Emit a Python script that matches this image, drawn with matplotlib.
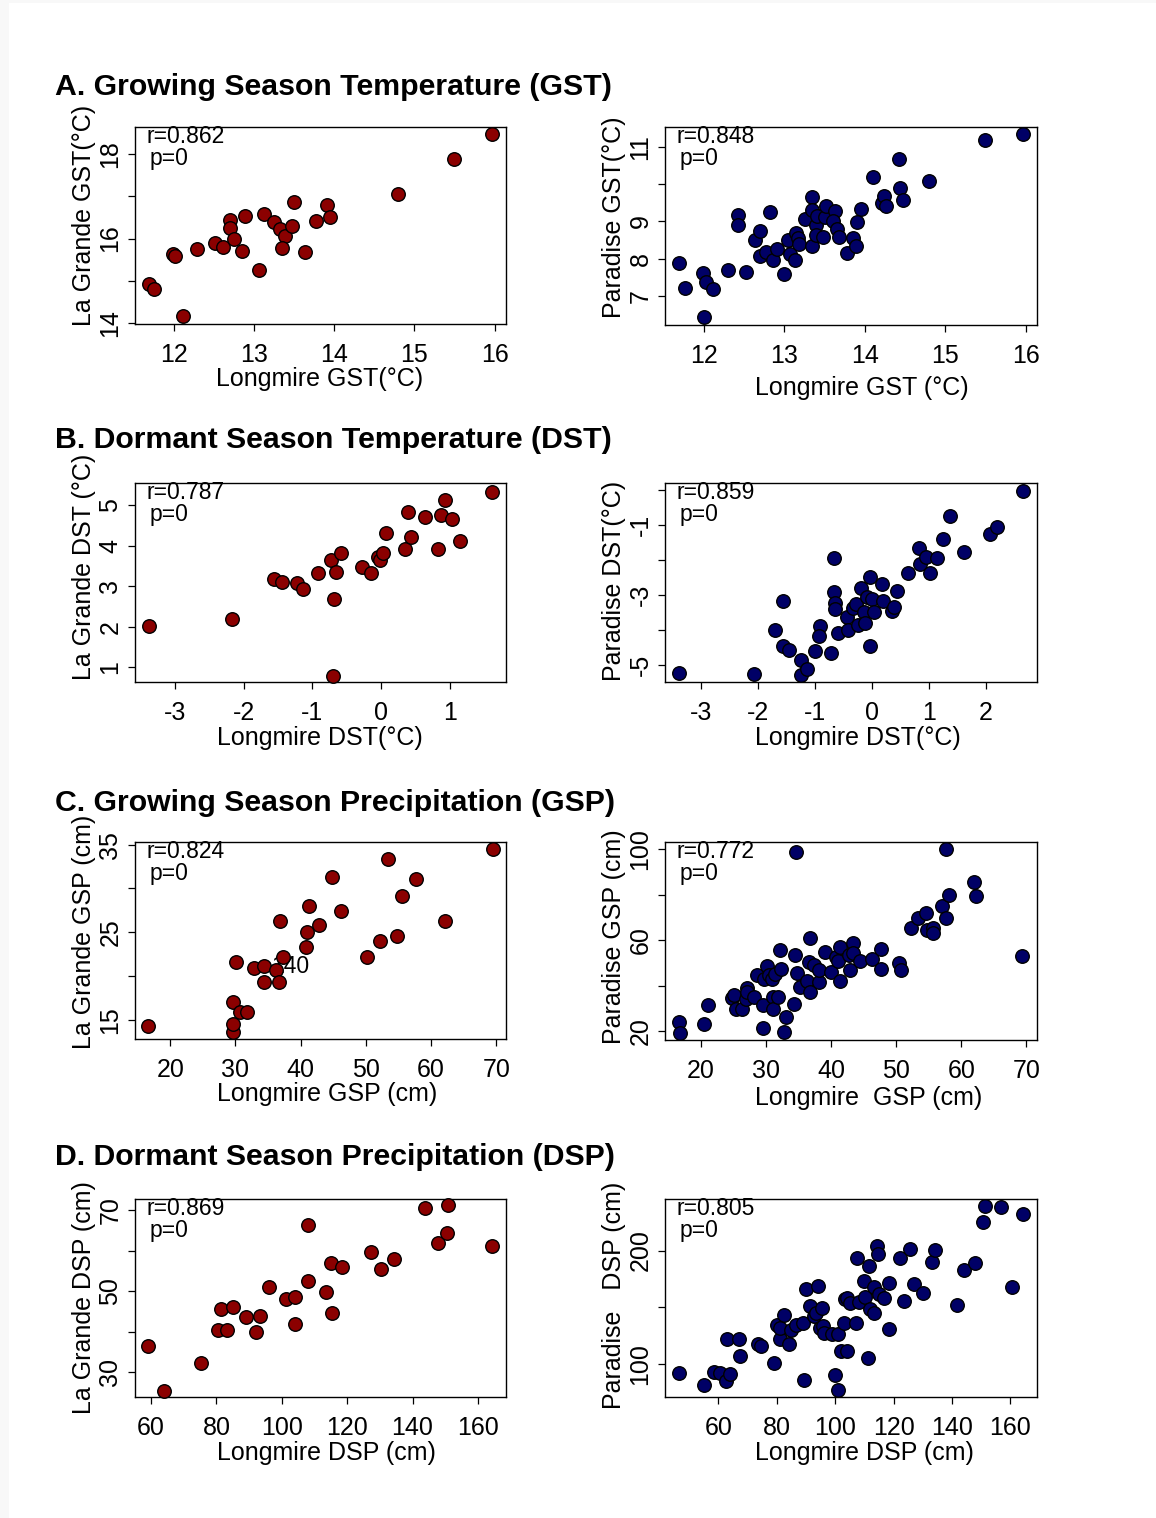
import matplotlib.pyplot as plt
from matplotlib.patches import Rectangle

plt.rcParams['font.family'] = ['Liberation Sans', 'DejaVu Sans']

W, H = 1156, 1518
RED = '#8b0000'
BLUE = '#000066'

# A. growing season temperature
gst_lg_x = [11.69, 11.76, 12.12, 11.99, 12.02, 12.29, 12.51, 12.62, 12.70, 12.70, 12.75, 12.85, 12.89, 13.07,
            13.13, 13.25, 13.33, 13.39, 13.35, 13.47, 13.50, 13.64, 13.77, 13.91, 13.95, 14.80, 15.49, 15.96]
gst_lg_y = [14.92, 14.80, 14.15, 15.63, 15.58, 15.75, 15.89, 15.81, 16.44, 16.24, 16.00, 15.70, 16.54, 15.25,
            16.58, 16.40, 16.22, 16.05, 15.78, 16.29, 16.86, 15.69, 16.41, 16.79, 16.52, 17.05, 17.90, 18.49]
gst_pa_x = [11.70, 11.77, 11.99, 12.03, 12.12, 12.01, 12.30, 12.52, 12.43, 12.43, 12.64, 12.70, 12.70, 12.77,
            12.83, 12.86, 12.91, 13.00, 13.05, 13.07, 13.14, 13.15, 13.17, 13.19, 13.26, 13.34, 13.35, 13.34,
            13.39, 13.40, 13.41, 13.48, 13.51, 13.52, 13.63, 13.61, 13.65, 13.68, 13.78, 13.86, 13.89, 13.95,
            13.91, 14.10, 14.21, 14.24, 14.26, 14.42, 14.44, 14.48, 14.80, 15.50, 15.96]
gst_pa_y = [7.88, 7.21, 7.61, 7.38, 7.19, 6.43, 7.70, 7.64, 9.16, 8.91, 8.49, 8.73, 8.06, 8.19,
            9.24, 7.97, 8.25, 7.58, 8.49, 8.13, 7.97, 8.68, 8.54, 8.39, 9.06, 9.65, 9.31, 8.33,
            8.91, 8.64, 9.14, 8.57, 9.11, 9.40, 9.28, 9.00, 8.79, 8.57, 8.15, 8.54, 8.34, 9.33,
            8.97, 10.19, 9.48, 9.69, 9.42, 10.68, 9.89, 9.58, 10.07, 11.19, 11.34]

# B. dormant season temperature
dst_lg_x = [-3.37, -2.17, -1.55, -1.44, -1.22, -1.13, -0.91, -0.72, -0.66, -0.58, -0.68, -0.70, -0.28, -0.15,
            -0.04, -0.01, 0.03, 0.07, 0.35, 0.40, 0.43, 0.64, 0.83, 0.87, 0.93, 1.03, 1.15, 1.62]
dst_lg_y = [2.02, 2.18, 3.17, 3.10, 3.09, 2.94, 3.32, 3.65, 3.36, 3.83, 2.67, 0.79, 3.47, 3.32,
            3.72, 3.65, 3.83, 4.31, 3.92, 4.83, 4.21, 4.71, 3.92, 4.77, 5.14, 4.66, 4.11, 5.33]
dst_pa_x = [-3.39, -2.08, -1.71, -1.57, -1.57, -1.46, -1.25, -1.25, -1.14, -1.00, -0.92, -0.94, -0.73, -0.67,
            -0.67, -0.66, -0.66, -0.60, -0.44, -0.42, -0.34, -0.28, -0.25, -0.19, -0.15, -0.13, -0.08, -0.04,
            -0.03, 0.00, 0.03, 0.18, 0.19, 0.35, 0.39, 0.43, 0.63, 0.82, 0.85, 0.94, 1.02, 1.14,
            1.24, 1.37, 1.61, 2.08, 2.20, 2.65]
dst_pa_y = [-5.22, -5.24, -3.98, -3.15, -4.46, -4.57, -4.86, -5.29, -5.11, -4.59, -3.87, -4.16, -4.64, -1.94,
            -2.92, -3.23, -3.40, -4.09, -3.61, -3.99, -3.35, -3.25, -3.85, -2.78, -3.49, -3.79, -3.04, -2.47,
            -4.46, -3.12, -3.49, -2.68, -3.15, -3.45, -3.33, -2.88, -2.37, -1.65, -2.11, -1.91, -2.35, -1.94,
            -1.40, -0.73, -1.75, -1.25, -1.06, -0.03]

# C. growing season precipitation
gsp_lg_x = [16.67, 29.59, 29.64, 29.64, 30.15, 30.77, 31.79, 32.92, 34.36, 34.46, 36.15, 36.67, 36.77, 37.33,
            40.77, 41.03, 41.28, 42.82, 44.87, 46.15, 50.15, 52.21, 53.44, 54.77, 55.49, 57.74, 62.21, 69.54]
gsp_lg_y = [14.24, 13.55, 14.50, 17.02, 21.59, 15.84, 15.84, 20.87, 21.10, 19.34, 20.64, 19.34, 26.31, 22.20,
            23.34, 24.98, 27.95, 25.86, 31.30, 27.46, 22.20, 24.03, 33.36, 24.60, 29.10, 31.08, 26.31, 34.50]
gsp_pa_x = [16.6, 16.7, 20.5, 21.0, 24.7, 25.1, 25.3, 26.3, 26.9, 27.1, 27.1, 28.2, 28.6, 29.5,
            29.6, 29.7, 30.2, 30.4, 30.9, 31.0, 31.1, 31.4, 31.9, 32.1, 32.3, 32.7, 33.1, 34.3,
            34.5, 34.6, 34.7, 35.2, 36.3, 36.8, 36.6, 36.8, 37.4, 38.1, 38.2, 39.0, 39.9, 40.8,
            41.1, 41.3, 41.4, 42.7, 42.9, 43.3, 43.4, 44.4, 46.3, 47.7, 47.7, 50.4, 50.8, 52.2,
            53.4, 54.6, 54.7, 55.6, 55.7, 57.0, 57.6, 57.6, 58.1, 61.9, 62.3, 69.4]
gsp_pa_y = [24.1, 19.3, 22.9, 31.4, 34.7, 35.9, 29.5, 29.5, 34.1, 38.8, 37.0, 35.1, 44.7, 31.4,
            21.2, 42.8, 48.6, 44.7, 42.8, 35.1, 29.7, 44.9, 35.1, 55.4, 47.3, 19.7, 26.0, 31.7,
            53.2, 98.5, 45.4, 39.2, 42.2, 37.3, 50.5, 60.8, 49.1, 41.7, 46.9, 54.9, 46.1, 52.7,
            50.8, 57.1, 42.2, 53.2, 46.9, 58.9, 54.2, 50.8, 51.6, 56.0, 47.3, 50.1, 46.9, 65.5,
            69.6, 71.8, 64.5, 65.2, 63.3, 74.8, 100.0, 69.6, 79.9, 85.5, 79.4, 53.0]

# D. dormant season precipitation
dsp_lg_x = [59.2, 64.0, 75.3, 80.6, 81.4, 83.2, 85.0, 89.1, 92.1, 93.4, 96.1, 101.3, 103.9, 104.1,
            108.0, 108.0, 113.5, 115.0, 115.3, 118.5, 127.2, 130.3, 134.2, 143.9, 147.8, 150.5, 151.0, 164.3]
dsp_lg_y = [36.5, 25.4, 32.2, 40.4, 45.7, 40.4, 46.1, 43.7, 39.9, 43.8, 51.1, 48.1, 48.5, 41.8,
            52.5, 66.4, 49.9, 56.9, 44.5, 55.9, 59.6, 55.4, 57.9, 70.6, 61.9, 64.5, 71.2, 61.2]
dsp_pa_x = [46.5, 55.1, 58.5, 60.6, 62.6, 63.8, 62.9, 66.9, 67.4, 73.4, 74.5, 78.9, 80.2, 81.1,
            81.1, 82.5, 84.3, 84.9, 86.5, 88.9, 89.4, 90.1, 91.4, 92.6, 93.5, 94.1, 94.9, 95.4,
            95.8, 96.2, 98.9, 100.0, 100.8, 101.1, 101.9, 104.0, 103.1, 103.4, 104.2, 104.9, 107.1, 107.4,
            108.0, 109.7, 110.1, 111.1, 111.4, 111.8, 113.4, 113.4, 114.3, 114.6, 115.1, 116.8, 118.3, 118.3,
            122.1, 123.7, 125.5, 126.9, 130.1, 133.1, 134.3, 141.7, 144.0, 147.8, 150.6, 151.2, 156.6, 160.6,
            164.2]
dsp_pa_y = [92.4, 81.5, 93.2, 92.4, 85.3, 91.8, 121.8, 121.8, 107.4, 117.6, 116.2, 101.5, 134.4, 122.6,
            132.1, 143.2, 118.2, 130.0, 134.4, 136.5, 86.5, 165.9, 151.2, 142.4, 144.7, 169.1, 131.5, 149.1,
            133.5, 127.1, 126.2, 90.3, 126.2, 77.6, 111.5, 111.5, 136.5, 157.4, 157.9, 153.5, 136.5, 193.2,
            154.4, 173.5, 159.4, 105.9, 186.8, 148.2, 145.3, 167.6, 204.4, 196.8, 161.8, 158.5, 171.2, 130.9,
            193.8, 155.6, 201.2, 170.6, 162.4, 190.3, 200.6, 152.1, 182.9, 189.4, 224.7, 239.4, 237.9, 167.6,
            232.1]

titles = ['A. Growing Season Temperature (GST)', 'B. Dormant Season Temperature (DST)',
          'C. Growing Season Precipitation (GSP)', 'D. Dormant Season Precipitation (DSP)']

fig = plt.figure(figsize=(W / 100, H / 100), dpi=100, facecolor='#f8f8f8')
fig.patches.append(Rectangle((9 / W, 0), 1, 1 - 3 / H, transform=fig.transFigure,
                             facecolor='white', edgecolor='none', zorder=-10))


def panel(rect, x, y, color, xlim, ylim, xticks, yticks, ylabs, xlab, ylab, r,
          xlab_px, ylab_cy, ylab_x):
    l, t, rr, b = rect
    ax = fig.add_axes([l / W, 1 - b / H, (rr - l) / W, (b - t) / H])
    ax.patch.set_alpha(0)
    ax.scatter(x, y, s=95, c=color, edgecolors='black', linewidths=1.0, zorder=3, clip_on=False)
    ax.set_xlim(xlim)
    ax.set_ylim(ylim)
    ax.set_xticks(xticks)
    ax.set_xticklabels([str(v) for v in xticks])
    ax.set_yticks(yticks)
    ax.set_yticklabels(ylabs)
    ax.tick_params(length=5, width=0.9, labelsize=18, direction='out', colors='black')
    ax.tick_params(axis='x', pad=9)
    ax.tick_params(axis='y', pad=4)
    for lbl in ax.get_yticklabels():
        lbl.set_rotation(90)
        lbl.set_va('center')
    for s in ax.spines.values():
        s.set_linewidth(1.0)
    ax.set_xlabel(xlab, fontsize=18, ha='left', va='top')
    ax.xaxis.set_label_coords((xlab_px[0] - l) / (rr - l), -(xlab_px[1] - b) / (b - t))
    ax.set_ylabel(ylab, fontsize=18)
    ax.yaxis.set_label_coords((ylab_x - l) / (rr - l), (b - ylab_cy) / (b - t))
    ax.annotate('r=' + r, xy=(0, 1), xycoords='axes fraction', xytext=(8.6, -11.5),
                textcoords='offset points', fontsize=16.5, va='baseline')
    ax.annotate('p=0', xy=(0, 1), xycoords='axes fraction', xytext=(10.8, -27.4),
                textcoords='offset points', fontsize=16.5, va='baseline')
    return ax


LC = (135, 506)
RC = (665, 1037)

panel((LC[0], 127, LC[1], 324), gst_lg_x, gst_lg_y, RED, (11.52, 16.14), (13.97, 18.65),
      [12, 13, 14, 15, 16], [14, 15, 16, 17, 18], ['14', '', '16', '', '18'],
      'Longmire GST(°C)', 'La Grande GST(°C)', '0.862', (216, 367), 215, 96)
panel((RC[0], 127, RC[1], 325), gst_pa_x, gst_pa_y, BLUE, (11.52, 16.14), (6.22, 11.53),
      [12, 13, 14, 15, 16], [7, 8, 9, 10, 11], ['7', '8', '9', '', '11'],
      'Longmire GST (°C)', 'Paradise GST(°C)', '0.848', (755, 376), 217, 626)

panel((LC[0], 483, LC[1], 682), dst_lg_x, dst_lg_y, RED, (-3.58, 1.82), (0.63, 5.55),
      [-3, -2, -1, 0, 1], [1, 2, 3, 4, 5], ['1', '2', '3', '4', '5'],
      'Longmire DST(°C)', 'La Grande DST (°C)', '0.787', (217, 726), 567, 96)
panel((RC[0], 483, RC[1], 682), dst_pa_x, dst_pa_y, BLUE, (-3.64, 2.90), (-5.48, 0.21),
      [-3, -2, -1, 0, 1, 2], [-5, -4, -3, -2, -1, 0], ['-5', '', '-3', '', '-1', ''],
      'Longmire DST(°C)', 'Paradise DST(°C)', '0.859', (755, 726), 581, 626)

axc = panel((LC[0], 842, LC[1], 1039), gsp_lg_x, gsp_lg_y, RED, (14.6, 71.5), (12.79, 35.3),
            [20, 30, 40, 50, 60, 70], [15, 20, 25, 30, 35], ['15', '', '25', '', '35'],
            'Longmire GSP (cm)', 'La Grande GSP (cm)', '0.824', (217, 1082), 932, 96)
axc.text(38.4, 21.1, '140', fontsize=16.5, ha='center', va='center', zorder=2)
panel((RC[0], 842, RC[1], 1040), gsp_pa_x, gsp_pa_y, BLUE, (14.46, 71.64), (16.04, 103.1),
      [20, 30, 40, 50, 60, 70], [20, 40, 60, 80, 100], ['20', '', '60', '', '100'],
      'Longmire  GSP (cm)', 'Paradise GSP (cm)', '0.772', (755, 1086), 937, 626)

panel((LC[0], 1199, LC[1], 1397), dsp_lg_x, dsp_lg_y, RED, (55.1, 168.6), (23.8, 72.8),
      [60, 80, 100, 120, 140, 160], [30, 40, 50, 60, 70], ['30', '', '50', '', '70'],
      'Longmire DSP (cm)', 'La Grande DSP (cm)', '0.869', (217, 1441), 1298, 96)
panel((RC[0], 1199, RC[1], 1397), dsp_pa_x, dsp_pa_y, BLUE, (41.7, 169.1), (71.2, 245.3),
      [60, 80, 100, 120, 140, 160], [100, 150, 200], ['100', '', '200'],
      'Longmire DSP (cm)', 'Paradise   DSP (cm)', '0.805', (755, 1441), 1295, 626)

for title, base in zip(titles, [95, 448, 811, 1165]):
    fig.text(55 / W, 1 - base / H, title, fontsize=21.8, fontweight='bold', va='baseline', ha='left')

fig.savefig('out.png', dpi=100, facecolor=fig.get_facecolor())
